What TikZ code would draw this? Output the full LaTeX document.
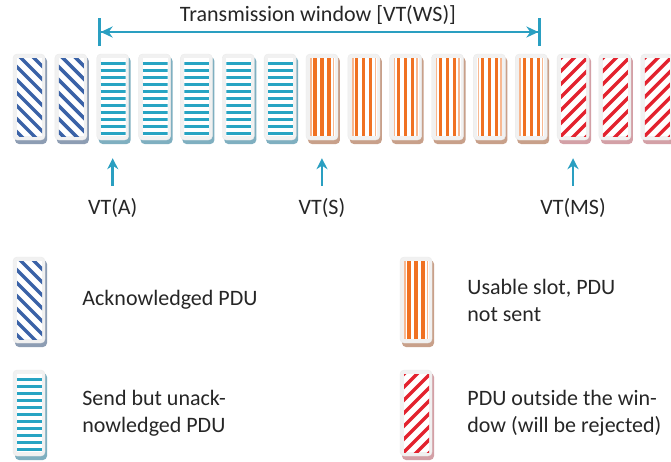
\documentclass[tikz,border=0pt]{standalone}
\usepackage{fontspec}
\setmainfont{Carlito}
\usetikzlibrary{arrows.meta, positioning, calc}

\definecolor{ackblue}{HTML}{3A62A7}
\definecolor{sendcyan}{HTML}{27A4C3}
\definecolor{useorange}{HTML}{F07122}
\definecolor{outred}{HTML}{E3222E}
\definecolor{pducyan}{HTML}{2A9FC1}
\definecolor{facegray}{HTML}{F1F1F1}
\definecolor{inkgray}{HTML}{262626}
\definecolor{shadeack}{HTML}{8D9DB3}
\definecolor{shadesend}{HTML}{7FAFC0}
\definecolor{shadeusable}{HTML}{C8A08A}
\definecolor{shadeout}{HTML}{D3A0A6}

\tikzset{
  pduface/.style={draw=black!8, fill=facegray, rounded corners=4pt, minimum width=32pt, minimum height=86pt, inner sep=0pt},
  txt/.style={text=inkgray, font=\fontsize{22}{27}\selectfont, inner sep=0pt},
  ptr/.style={pducyan, line width=2.6pt, -{Stealth[length=11pt, width=11pt]}},
  window/.style={pducyan, line width=2.6pt, {Bar[width=28pt]Stealth[length=12pt, width=11pt]}-{Stealth[length=12pt, width=11pt]Bar[width=28pt]}},
}

% stripe patterns, drawn in the box's own frame
\newcommand{\stripesack}{\foreach \k in {-30,-17,...,95} \draw[ackblue, line width=3.4pt] (0,\k) -- ++(34,34);}
\newcommand{\stripesout}{\foreach \k in {-5,8,...,125} \draw[outred, line width=3.4pt] (0,\k) -- ++(34,-34);}
\newcommand{\stripessend}{\foreach \k in {0,...,10} \draw[sendcyan, line width=3pt] (4,9+7*\k) -- (29,9+7*\k);}
\newcommand{\stripesusable}{%
  \foreach \k in {9,16,23} \draw[useorange, line width=3.2pt] (\k,4) -- (\k,82);
  \foreach \k in {5,27.5} \draw[useorange!50, line width=1.5pt] (\k,4) -- (\k,82);}

\newcommand{\pdubox}[4]{% name, left, top, kind
  \begin{scope}[shift={(#2,#3)}]
    \fill[shade#4, rounded corners=4pt] (2,3) rectangle ++(32,87);
    \node[pduface] (#1) at (16,43) {};
    \fill[white] (4,4) rectangle (29,82);
    \begin{scope}
      \clip (4,4) rectangle (29,82);
      \csname stripes#4\endcsname
    \end{scope}
  \end{scope}}

\begin{document}
\begin{tikzpicture}[x=1pt, y=-1pt]
  \useasboundingbox (0,0) rectangle (671,461);

  % row of PDUs
  \foreach \i in {0,1} {\pdubox{p\i}{13+41.85*\i}{54}{ack}}
  \foreach \i in {2,...,6} {\pdubox{p\i}{13+41.85*\i}{54}{send}}
  \foreach \i in {7,...,12} {\pdubox{p\i}{13+41.85*\i}{54}{usable}}
  \foreach \i in {13,14,15} {\pdubox{p\i}{13+41.85*\i}{54}{out}}

  % transmission window
  \node[txt, anchor=base] (wintitle) at (318,21) {Transmission window [VT(WS)]};
  \coordinate (winL) at (98,32);
  \coordinate (winR) at (541,32);
  \draw[window] (winL) -- (winR);

  % state variables
  \node[txt, anchor=base] (vtA) at ([yshift=-117pt]p2.center) {VT(A)};
  \node[txt, anchor=base] (vtS) at ([yshift=-117pt]p7.center) {VT(S)};
  \node[txt, anchor=base] (vtMS) at ([yshift=-117pt]p13.center) {VT(MS)};
  \draw[ptr] ([yshift=12pt]vtA.north) -- ([yshift=-18pt]p2.south);
  \draw[ptr] ([yshift=12pt]vtS.north) -- ([yshift=-18pt]p7.south);
  \draw[ptr] ([yshift=12pt]vtMS.north) -- ([yshift=-18pt]p13.south);

  % legend
  \pdubox{lgack}{13}{257}{ack}
  \pdubox{lgsend}{13}{370}{send}
  \pdubox{lgusable}{400}{257}{usable}
  \pdubox{lgout}{400}{370}{out}
  \node[txt, right=37pt of lgack] (txack) {Acknowledged PDU};
  \node[txt, align=left, right=37pt of lgsend] (txsend) {Send but unack-\\nowledged PDU};
  \node[txt, align=left, right=35pt of lgusable] (txusable) {Usable slot, PDU\\not sent};
  \node[txt, align=left, right=35pt of lgout] (txout) {PDU outside the win-\\dow (will be rejected)};
\end{tikzpicture}
\end{document}
